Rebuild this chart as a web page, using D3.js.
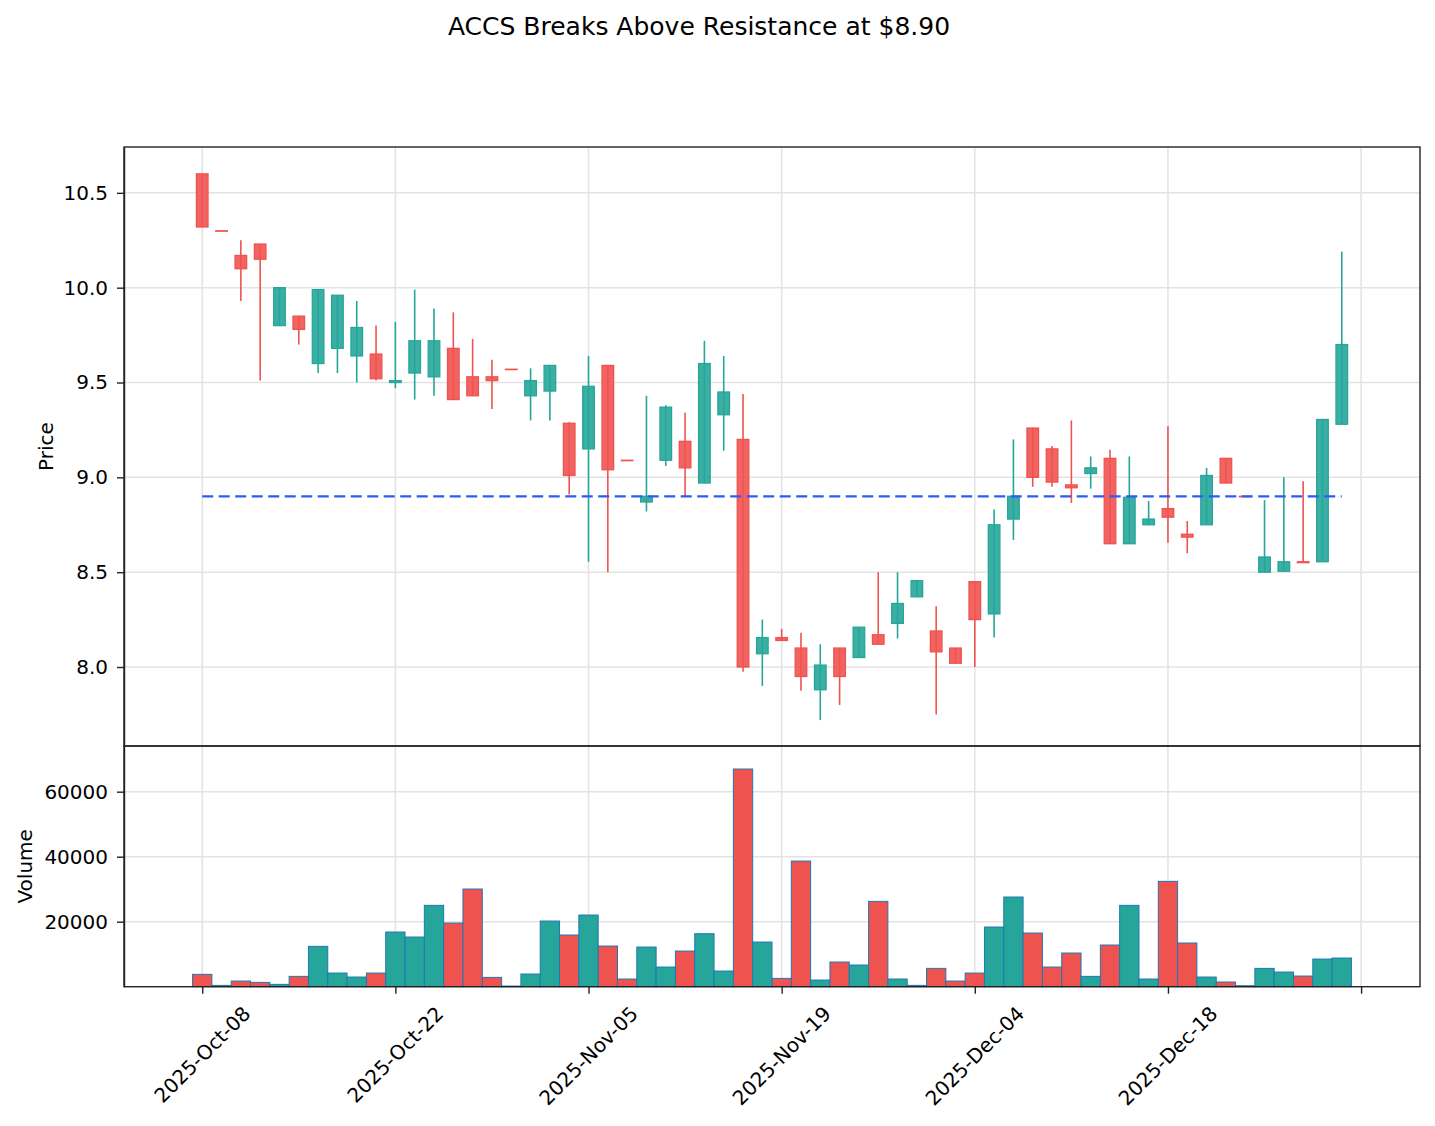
<!DOCTYPE html>
<meta charset="utf-8">
<style>
    body { margin: 0; background: #fff; }
    svg { display: block; font-family: "DejaVu Sans", sans-serif; }
    .grid line { stroke: #e3e3e3; stroke-width: 1.5; }
    .axis path, .axis line { stroke: #222; stroke-width: 1.4; }
    .axis text { font-size: 20px; fill: #000; font-family: "DejaVu Sans", sans-serif; }
</style>
<body>
<script src="https://d3js.org/d3.v7.min.js"></script>
<script>

    // trading days shown on the chart
    var dates = [
        "2025-10-08","2025-10-09","2025-10-10","2025-10-13","2025-10-14","2025-10-15","2025-10-16","2025-10-17","2025-10-20","2025-10-21",
        "2025-10-22","2025-10-23","2025-10-24","2025-10-27","2025-10-28","2025-10-29","2025-10-30","2025-10-31","2025-11-03","2025-11-04",
        "2025-11-05","2025-11-06","2025-11-07","2025-11-10","2025-11-11","2025-11-12","2025-11-13","2025-11-14","2025-11-17","2025-11-18",
        "2025-11-19","2025-11-20","2025-11-21","2025-11-24","2025-11-25","2025-11-26","2025-11-28","2025-12-01","2025-12-02","2025-12-03",
        "2025-12-04","2025-12-05","2025-12-08","2025-12-09","2025-12-10","2025-12-11","2025-12-12","2025-12-15","2025-12-16","2025-12-17",
        "2025-12-18","2025-12-19","2025-12-22","2025-12-23","2025-12-24","2025-12-26","2025-12-29","2025-12-30","2025-12-31","2026-01-02"
    ];

    var opens = [10.60,10.30,10.17,10.23,9.80,9.85,9.60,9.68,9.64,9.65,
                 9.50,9.55,9.53,9.68,9.53,9.53,9.57,9.43,9.455,9.285,
                 9.15,9.59,9.09,8.87,9.09,9.19,8.97,9.33,9.20,8.07,
                 8.155,8.10,7.88,8.10,8.05,8.17,8.23,8.37,8.19,8.10,
                 8.45,8.28,8.78,9.26,9.15,8.96,9.02,9.10,8.65,8.75,
                 8.835,8.70,8.75,9.10,8.90,8.50,8.505,8.555,8.555,9.28];
    var highs = [10.60,10.30,10.25,10.23,10.00,9.85,9.99,9.96,9.93,9.80,
                 9.82,9.99,9.89,9.87,9.73,9.62,9.57,9.575,9.59,9.29,
                 9.64,9.59,9.09,9.43,9.38,9.34,9.72,9.64,9.44,8.25,
                 8.20,8.18,8.12,8.10,8.21,8.50,8.50,8.455,8.32,8.10,
                 8.45,8.83,9.20,9.26,9.165,9.30,9.11,9.145,9.11,8.875,
                 9.27,8.77,9.05,9.10,8.90,8.88,9.00,8.98,9.305,10.19];
    var lows  = [10.32,10.30,9.93,9.51,9.80,9.70,9.55,9.55,9.50,9.51,
                 9.47,9.41,9.43,9.41,9.43,9.36,9.57,9.30,9.30,8.91,
                 8.555,8.50,9.09,8.82,9.06,8.90,8.97,9.14,7.975,7.90,
                 8.14,7.875,7.72,7.80,8.05,8.12,8.15,8.37,7.75,8.02,
                 8.00,8.155,8.67,8.95,8.95,8.865,8.94,8.65,8.65,8.75,
                 8.655,8.60,8.75,8.97,8.90,8.50,8.505,8.55,8.555,9.28];
    var closes = [10.32,10.30,10.10,10.15,10.00,9.78,9.99,9.96,9.79,9.52,
                  9.51,9.72,9.72,9.41,9.43,9.51,9.57,9.51,9.59,9.01,
                  9.48,9.04,9.09,8.90,9.37,9.05,9.60,9.45,8.00,8.155,
                  8.14,7.95,8.01,7.95,8.21,8.12,8.335,8.455,8.08,8.02,
                  8.25,8.75,8.90,9.00,8.975,8.945,9.05,8.65,8.895,8.78,
                  8.79,8.685,9.01,8.97,8.90,8.58,8.555,8.55,9.305,9.70];
    var volumes = [3800,400,1740,1330,720,3180,12410,4200,2970,4200,
                   16820,15280,25030,19590,30050,2870,200,3900,20200,15900,
                   22050,12510,2360,12200,6050,10970,16300,4820,66970,13740,
                   2560,38660,2050,7590,6670,26250,2360,410,5640,1740,
                   4200,18360,27590,16510,6050,10360,3180,12820,25030,2360,
                   32410,13440,2970,1440,300,5640,4510,3280,8510,8820];

    var resistance = 8.90;
    var priceTicks = [8.0, 8.5, 9.0, 9.5, 10.0, 10.5];
    var volumeTicks = [20000, 40000, 60000];
    var xTickIdx = [0, 10, 20, 30, 40, 50, 60];

    var upColor = "#26a69a", downColor = "#ef5350";

    var W = 1435, H = 1126;
    var left = 124, right = 1420, topY = 147, splitY = 746, bottomY = 986.7;

    var svg = d3.select("body").append("svg")
            .attr("width", W)
            .attr("height", H);

    var x = d3.scaleLinear().domain([-4.05, 63.05]).range([left, right]);
    var yP = d3.scaleLinear().domain([7.5835, 10.7417]).range([splitY, topY]);
    var yV = d3.scaleLinear().domain([0, 74052]).range([bottomY, splitY]);

    var parseDate = d3.timeParse("%Y-%m-%d"),
        fmt = d3.timeFormat("%Y-%b-%d");

    // grid lines
    var grid = svg.append("g").attr("class", "grid");
    grid.selectAll("line.v").data(xTickIdx).enter().append("line")
            .attr("x1", d => x(d)).attr("x2", d => x(d))
            .attr("y1", topY).attr("y2", bottomY);
    grid.selectAll("line.hp").data(priceTicks).enter().append("line")
            .attr("x1", left).attr("x2", right)
            .attr("y1", d => yP(d)).attr("y2", d => yP(d));
    grid.selectAll("line.hv").data(volumeTicks).enter().append("line")
            .attr("x1", left).attr("x2", right)
            .attr("y1", d => yV(d)).attr("y2", d => yV(d));

    var idx = d3.range(dates.length);
    var isUp = i => closes[i] > opens[i];
    var colorOf = i => isUp(i) ? upColor : downColor;

    // volume bars
    var barW = x(1) - x(0);
    svg.append("g").selectAll("rect").data(idx).enter().append("rect")
            .attr("x", i => x(i) - barW / 2)
            .attr("width", barW)
            .attr("y", i => yV(volumes[i]))
            .attr("height", i => yV(0) - yV(volumes[i]))
            .attr("fill", colorOf)
            .attr("stroke", "#1f77b4")
            .attr("stroke-width", 1);

    // candles
    var bodyW = (x(1) - x(0)) * 0.6;
    var candles = svg.append("g").selectAll("g").data(idx).enter().append("g");
    candles.append("line")
            .attr("x1", i => x(i)).attr("x2", i => x(i))
            .attr("y1", i => yP(highs[i])).attr("y2", i => yP(lows[i]))
            .attr("stroke", colorOf)
            .attr("stroke-width", 1.6);
    candles.append("rect")
            .attr("x", i => x(i) - bodyW / 2)
            .attr("width", bodyW)
            .attr("y", i => yP(Math.max(opens[i], closes[i])))
            .attr("height", i => Math.max(0.4, Math.abs(yP(opens[i]) - yP(closes[i]))))
            .attr("fill", colorOf)
            .attr("fill-opacity", 0.9)
            .attr("stroke", colorOf)
            .attr("stroke-width", 1.3);

    // resistance line
    svg.append("line")
            .attr("x1", x(0)).attr("x2", x(dates.length - 1))
            .attr("y1", yP(resistance)).attr("y2", yP(resistance))
            .attr("stroke", "#2b5cf6")
            .attr("stroke-width", 2.2)
            .attr("stroke-dasharray", "11,5.5");

    // axes
    svg.append("g").attr("class", "axis")
            .attr("transform", "translate(" + left + ",0)")
            .call(d3.axisLeft(yP).tickValues(priceTicks).tickFormat(d3.format(".1f")).tickSize(7).tickPadding(9).tickSizeOuter(0));
    svg.append("g").attr("class", "axis")
            .attr("transform", "translate(" + left + ",0)")
            .call(d3.axisLeft(yV).tickValues(volumeTicks).tickFormat(d3.format("d")).tickSize(7).tickPadding(9).tickSizeOuter(0));
    var xAxis = svg.append("g").attr("class", "axis")
            .attr("transform", "translate(0," + bottomY + ")")
            .call(d3.axisBottom(x).tickValues(xTickIdx).tickFormat("").tickSize(7).tickSizeOuter(0));
    xAxis.select(".domain").remove();

    // frames
    [[topY, splitY], [splitY, bottomY]].forEach(function(p) {
        svg.append("rect")
                .attr("x", left).attr("y", p[0])
                .attr("width", right - left).attr("height", p[1] - p[0])
                .attr("fill", "none").attr("stroke", "#222").attr("stroke-width", 1.4);
    });

    // rotated date labels
    xTickIdx.forEach(function(i) {
        if (i >= dates.length) return;
        var t = svg.append("text")
                .attr("font-size", 20)
                .attr("text-anchor", "middle")
                .attr("dominant-baseline", "central")
                .text(fmt(parseDate(dates[i])));
        var w = t.node().getComputedTextLength();
        var cy = 1002 + (w + 23) / (2 * Math.SQRT2);
        t.attr("transform", "translate(" + x(i) + "," + cy + ") rotate(-45)");
    });

    // titles
    svg.append("text")
            .attr("x", 699).attr("y", 35)
            .attr("text-anchor", "middle")
            .attr("font-size", 25)
            .text("ACCS Breaks Above Resistance at $8.90");
    svg.append("text")
            .attr("transform", "translate(53," + (topY + splitY) / 2 + ") rotate(-90)")
            .attr("text-anchor", "middle")
            .attr("font-size", 20)
            .text("Price");
    svg.append("text")
            .attr("transform", "translate(31.5," + (splitY + bottomY) / 2 + ") rotate(-90)")
            .attr("text-anchor", "middle")
            .attr("font-size", 20)
            .text("Volume");

</script>
</body>
